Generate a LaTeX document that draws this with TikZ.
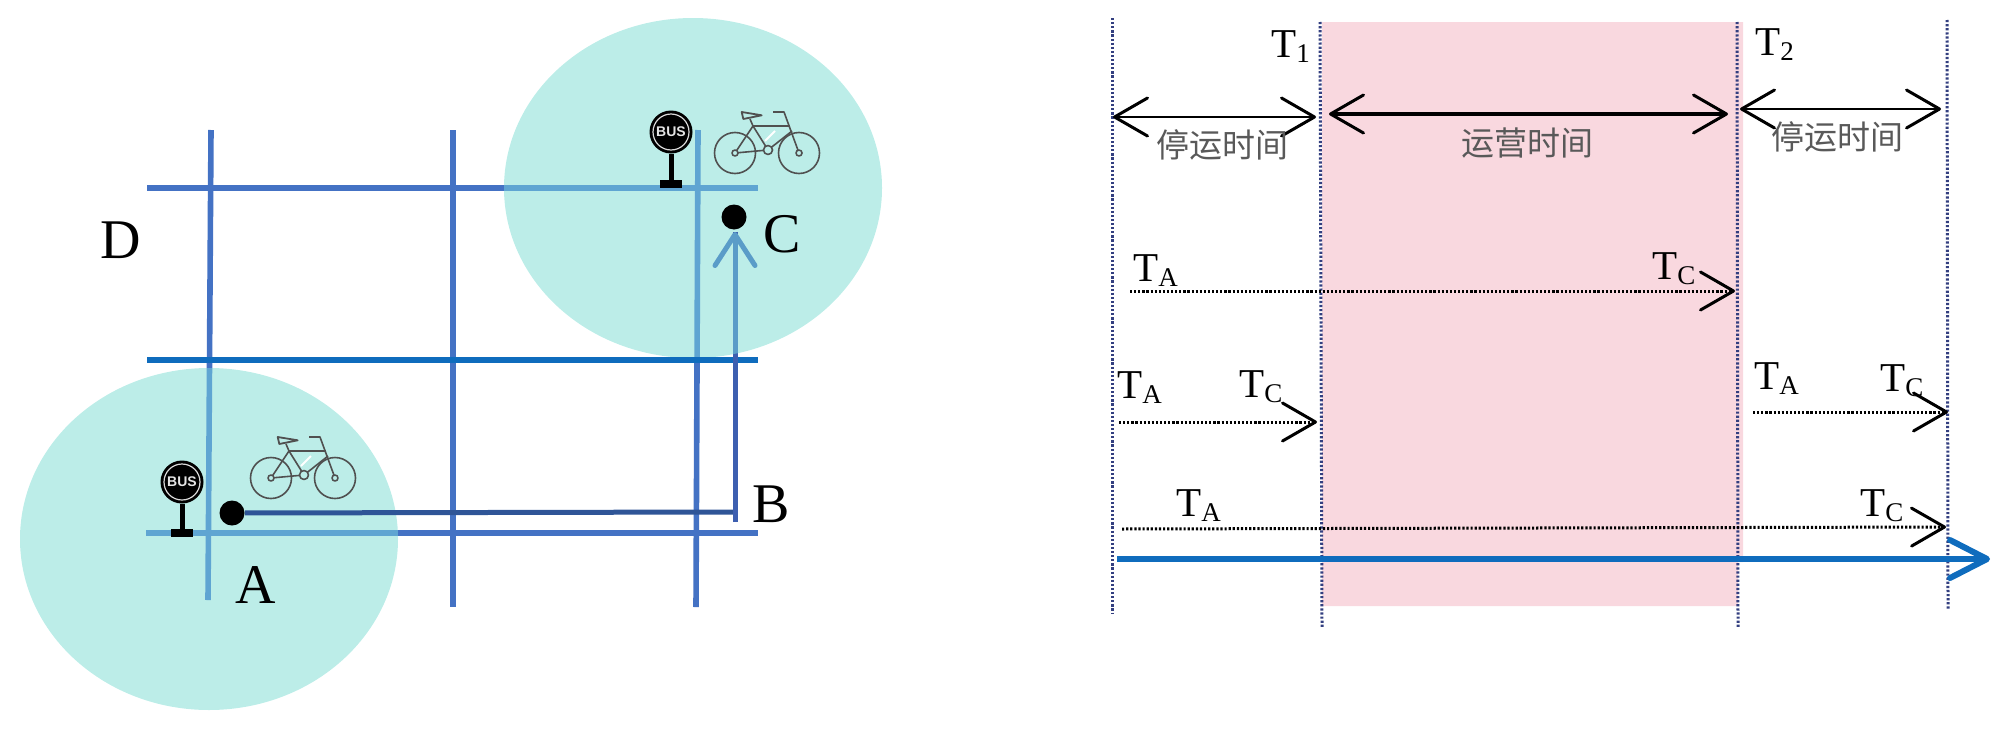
\documentclass[tikz,border=0pt]{standalone}
\usepackage{fontspec}
\setmainfont{Liberation Serif}
\newfontfamily\cjk{Noto Sans CJK SC}
\newfontfamily\busfont{Liberation Sans}
\usetikzlibrary{arrows.meta}
\definecolor{roadblue}{HTML}{4472C4}
\definecolor{roadlight}{HTML}{5FA5D2}
\definecolor{roaddeep}{HTML}{0F6CBD}
\definecolor{routedark}{HTML}{2F5597}
\definecolor{routemid}{HTML}{3D5FB0}
\definecolor{arrowteal}{HTML}{5A9CC8}
\definecolor{zonefill}{HTML}{BCEDE8}
\definecolor{pinkfill}{HTML}{F9D8DF}
\definecolor{dotnavy}{HTML}{333F80}
\definecolor{bikegrey}{HTML}{505050}
\newcommand{\TS}[1]{\fontsize{20.5}{24}\selectfont T\raisebox{-2.5pt}{\fontsize{13.5}{16}\selectfont #1}}
\newcommand{\roadset}[1]{%
  \draw[road,#1] (h1a) -- (h1b);
  \draw[road,#1] (h3a) -- (h3b);
  \draw[road,#1] (v1a) -- (v1b);
  \draw[road,#1] (v2a) -- (v2b);
  \draw[road,#1] (v3a) -- (v3b);
}
\tikzset{
  x=0.5pt,y=-0.5pt,
  road/.style={line width=2.8pt},
  zone/.style={fill=zonefill,draw=none},
  biglabel/.style={anchor=base west,inner sep=0pt,font=\fontsize{28}{34}\selectfont},
  timelabel/.style={anchor=base west,inner sep=0pt},
  cnlabel/.style={inner sep=0pt,text=black!65,font=\cjk\fontsize{16.5}{20}\selectfont},
  person/.style={circle,fill=black,inner sep=0pt,minimum size=12.5pt},
  guide/.style={draw=dotnavy,line width=1.5pt,dash pattern=on 1.1pt off 0.95pt},
  trip/.style={draw=black,line width=1.5pt,dash pattern=on 1.1pt off 0.95pt,
    -{Straight Barb[length=16.5pt,width=19pt,line width=1.5pt,round]}},
  span/.style={draw=black,line width=1.4pt,
    {Straight Barb[length=16.5pt,width=19pt,line width=1.5pt,round]}-{Straight Barb[length=16.5pt,width=19pt,line width=1.5pt,round]}},
  spanbold/.style={span,line width=2.2pt},
  axis/.style={draw=roaddeep,line width=3pt,
    -{Straight Barb[length=18.5pt,width=19pt,line width=3pt,round]}},
  busdisc/.style={circle,fill=black,inner sep=0pt,minimum size=21.5pt},
  busring/.style={circle,draw=white!85!black,line width=0.6pt,inner sep=0pt,minimum size=18pt},
  bustext/.style={inner sep=0pt,text=white!90!black,font=\busfont\bfseries\fontsize{7}{8}\selectfont},
  bicycle/.pic={
    \begin{scope}[draw=bikegrey,line width=0.8pt,line join=round]
      \draw (0,0) circle[radius=20.5];
      \draw (64,0) circle[radius=20.5];
      \draw (0,0) -- (33,-3) -- (18,-27) -- cycle;
      \draw (18,-27) -- (55,-27);
      \draw (33,-3) -- (57,-22);
      \draw (38,-41) -- (49,-41) -- (64,0);
      \draw (15,-34) -- (18,-27);
      \draw[line width=0.9pt] (6.7,-41) -- (26.7,-37.7) -- (8.3,-34) -- cycle;
      \draw[white,line width=1pt] (30,-12) -- (40,-22);
      \draw[fill=zonefill] (0,0) circle[radius=3];
      \draw[fill=zonefill] (64,0) circle[radius=3];
      \draw[fill=zonefill] (33,-3) circle[radius=4.5];
    \end{scope}
  }
}
\begin{document}
\begin{tikzpicture}
\useasboundingbox (0,0) rectangle (2000,728);
% road ends
\coordinate (h1a) at (147,188); \coordinate (h1b) at (758,188);
\coordinate (h2a) at (147,360); \coordinate (h2b) at (758,360);
\coordinate (h3a) at (146,533); \coordinate (h3b) at (758,533);
\coordinate (v1a) at (211,130); \coordinate (v1b) at (208,600);
\coordinate (v2a) at (453,130); \coordinate (v2b) at (453,607);
\coordinate (v3a) at (698,130); \coordinate (v3b) at (696,607);
\roadset{draw=roadblue}
% zones
\fill[zone] (209,539) ellipse[x radius=189,y radius=171];
\fill[zone] (693,188) ellipse[x radius=189,y radius=170];
\begin{scope}
  \clip (209,539) ellipse[x radius=189,y radius=171];
  \roadset{draw=roadlight}
\end{scope}
\begin{scope}
  \clip (693,188) ellipse[x radius=189,y radius=170];
  \roadset{draw=roadlight}
\end{scope}
\draw[road,draw=roaddeep] (h2a) -- (h2b);
% route
\node[person] (A) at (232,513) {};
\node[person] (C) at (734,217) {};
\coordinate (Bturn) at (735,512);
\coordinate (Bend) at (735,522);
\coordinate (Ctip) at (735,232);
\draw[draw=routedark,line width=2.5pt] (A) -- (Bturn);
\draw[draw=routemid,line width=2.5pt] (Bend) -- (Ctip);
\begin{scope}
  \clip (693,188) ellipse[x radius=189,y radius=170];
  \draw[draw=arrowteal,line width=2.5pt,
    -{Straight Barb[length=15.5pt,width=20pt,line width=2.5pt,round]}] (Bend) -- (Ctip);
\end{scope}
\node[biglabel] (la) at (235,603) {A};
\node[biglabel] (lb) at (752,522) {B};
\node[biglabel] (lc) at (763,252) {C};
\node[biglabel] (ld) at (100,258) {D};
% bus stops
\node[busdisc] (s1) at (182,482) {};
\node[busring] (s1r) at (182,482) {};
\node[bustext] (s1t) at (182,482) {BUS};
\fill (179.5,504) rectangle (184.5,530);
\fill (171,529) rectangle (193,537);
\node[busdisc] (s2) at (671,132) {};
\node[busring] (s2r) at (671,132) {};
\node[bustext] (s2t) at (671,132) {BUS};
\fill (668.5,154) rectangle (673.5,181);
\fill (660,180) rectangle (682,188);
% bicycles
\pic at (271,478) {bicycle};
\pic at (735,153) {bicycle};
% right panel
\fill[pinkfill] (1322,22) -- (1743,22) -- (1743,562) -- (1738,562) -- (1738,606) -- (1322,606) -- cycle;
\coordinate (g1a) at (1112,18); \coordinate (g1b) at (1112,613);
\coordinate (g2a) at (1320,22); \coordinate (g2b) at (1322,627);
\coordinate (g3a) at (1737,22); \coordinate (g3b) at (1738,628);
\coordinate (g4a) at (1947,20); \coordinate (g4b) at (1948,610);
\draw[guide] (g1a) -- (g1b);
\draw[guide] (g2a) -- (g2b);
\draw[guide] (g3a) -- (g3b);
\draw[guide] (g4a) -- (g4b);
% spans
\coordinate (sa1) at (1113,117); \coordinate (sa2) at (1316,117);
\coordinate (sb1) at (1329,114); \coordinate (sb2) at (1728,114);
\coordinate (sc1) at (1740,109); \coordinate (sc2) at (1941,109);
\draw[span] (sa1) -- (sa2);
\draw[spanbold] (sb1) -- (sb2);
\draw[span] (sc1) -- (sc2);
\node[cnlabel] (n1) at (1222,145) {停运时间};
\node[cnlabel] (n2) at (1527,143) {运营时间};
\node[cnlabel] (n3) at (1837,137) {停运时间};
\node[timelabel] (t1) at (1271,57) {\TS{1}};
\node[timelabel] (t2) at (1755,55) {\TS{2}};
% trips
\coordinate (r1a) at (1130,291); \coordinate (r1b) at (1735,291);
\coordinate (r2a) at (1119,422); \coordinate (r2b) at (1317,422);
\coordinate (r3a) at (1753,412); \coordinate (r3b) at (1948,412);
\coordinate (r4a) at (1122,529); \coordinate (r4b) at (1946,527);
\draw[trip] (r1a) -- (r1b);
\draw[trip] (r2a) -- (r2b);
\draw[trip] (r3a) -- (r3b);
\draw[trip] (r4a) -- (r4b);
\node[timelabel] (ta1) at (1133,281) {\TS{A}};
\node[timelabel] (tc1) at (1652,279) {\TS{C}};
\node[timelabel] (ta2) at (1117,398) {\TS{A}};
\node[timelabel] (tc2) at (1239,397) {\TS{C}};
\node[timelabel] (ta3) at (1754,389) {\TS{A}};
\node[timelabel] (tc3) at (1880,391) {\TS{C}};
\node[timelabel] (ta4) at (1176,516) {\TS{A}};
\node[timelabel] (tc4) at (1860,516) {\TS{C}};
% time axis
\coordinate (axa) at (1117,559); \coordinate (axb) at (1990,559);
\draw[axis] (axa) -- (axb);
\end{tikzpicture}
\end{document}
